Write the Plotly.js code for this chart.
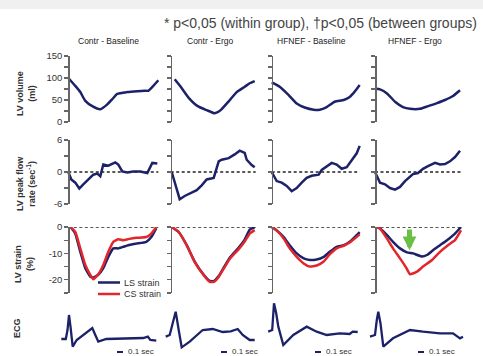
<!DOCTYPE html>
<html><head><meta charset="utf-8">
<script src="https://cdn.plot.ly/plotly-3.0.1.min.js"></script>
<style>html,body{margin:0;padding:0;background:#fff}#chart{width:483px;height:356px}</style>
</head><body><div id="chart"></div>
<script>
// ---------- DATA ----------
const groups = ["Contr - Baseline", "Contr - Ergo", "HFNEF - Baseline", "HFNEF - Ergo"];
const noteText = "* p&lt;0,05 (within group), †p&lt;0,05 (between groups)";
const rowLabels = ["LV volume<br>(ml)", "LV peak flow<br>rate (sec<sup>-1</sup>)", "LV strain<br>(%)", "ECG"];
const seriesNames = ["LS strain", "CS strain"];
const scaleLabel = "0.1 sec";

// time (% of cycle) and LV volume (ml)
const volT_cb = [0, 7, 12, 17, 24, 32, 39, 44, 49, 59, 69, 76, 80, 85, 90];
const vol_cb  = [100, 82, 68, 48, 36, 29, 40, 52, 64, 68, 70, 71, 71, 82, 95];
const volT_ce = [4, 10, 18, 27, 36, 44, 50, 58, 66, 74, 79, 84];
const vol_ce  = [97, 80, 55, 36, 27, 20, 27, 47, 68, 80, 88, 93];
const volT_hb = [0, 8, 17, 25, 33, 42, 48, 55, 63, 72, 78, 83, 88];
const vol_hb  = [90, 80, 61, 42, 33, 28, 28, 34, 46, 50, 57, 69, 84];
const volT_he = [0, 5, 12, 20, 28, 35, 45, 53, 62, 70, 78, 85];
const vol_he  = [76, 74, 65, 46, 34, 30, 30, 36, 43, 50, 59, 72];

// LV peak flow rate (1/s)
const flowT_cb = [0, 3, 7, 11, 15, 20, 25, 29, 32, 35, 40, 47, 50, 54, 59, 65, 72, 79, 84, 89];
const flow_cb  = [0, -1.4, -2.0, -3.1, -2.3, -1.4, -0.5, -0.3, -0.8, 1.4, 1.2, 1.8, 1.4, 0.1, -0.1, 0.1, 0.1, -0.2, 1.7, 1.6];
const flowT_ce = [1, 4, 9, 14, 21, 26, 31, 36, 43, 48, 51, 58, 64, 69, 74, 76, 81, 84];
const flow_ce  = [0, -2.0, -5.1, -4.5, -3.8, -3.4, -2.5, -1.4, -1.1, 2.0, 2.3, 2.6, 3.3, 4.0, 3.6, 2.3, 1.3, 0.9];
const flowT_hb = [0, 5, 10, 15, 20, 25, 30, 35, 40, 47, 50, 55, 60, 65, 70, 75, 80, 85, 88];
const flow_hb  = [0, -1.7, -2.0, -2.6, -3.6, -3.0, -2.0, -1.1, -0.7, -0.5, 0.4, 1.0, 1.7, 1.4, 0.6, 0.9, 2.3, 3.5, 4.9];
const flowT_he = [0, 5, 10, 15, 20, 25, 30, 35, 38, 43, 48, 53, 60, 65, 70, 75, 80, 85];
const flow_he  = [0, -2.0, -2.3, -3.0, -3.3, -2.8, -1.7, -0.8, -0.4, -0.2, 0.6, 1.1, 1.7, 1.4, 1.5, 2.0, 2.8, 4.0];

// LV strain (%)
const strT_cb = [0, 3, 7, 12, 17, 22, 25, 30, 35, 40, 45, 50, 55, 60, 68, 78, 83, 88];
const ls_cb   = [0, -0.4, -2.5, -9.4, -15.6, -18.8, -19.1, -18.1, -15.6, -11.3, -8.1, -8.1, -7.5, -6.9, -6.3, -5.6, -3.8, -0.4];
const cs_cb   = [0, -0.4, -1.9, -8.1, -14.4, -18.1, -19.8, -17.9, -14.4, -9.4, -5.6, -4.6, -5.0, -4.6, -4.1, -3.8, -2.5, 0];
const strT_ce = [1, 8, 16, 24, 33, 39, 43, 48, 53, 59, 68, 74, 79, 84];
const ls_ce   = [0, -1.9, -6.9, -13.1, -18.1, -20.4, -20.5, -18.6, -15.4, -11.6, -7.8, -4.8, -1.0, 0];
const cs_ce   = [0, -1.9, -6.9, -13.3, -18.3, -20.8, -20.8, -18.9, -15.8, -12.1, -8.4, -5.5, -2.5, -1.2];
const strT_hb = [0, 5, 12, 18, 25, 32, 38, 45, 52, 58, 65, 72, 78, 88];
const ls_hb   = [0, -1.3, -3.8, -6.9, -10.0, -11.9, -12.5, -12.3, -11.3, -9.4, -7.5, -6.9, -5.6, -1.9];
const cs_hb   = [0, -1.3, -4.4, -8.1, -11.3, -13.8, -15.0, -14.6, -13.1, -10.4, -8.1, -7.1, -5.9, -2.8];
const strT_he = [2, 5, 12, 18, 25, 32, 38, 47, 52, 58, 65, 72, 80, 86];
const ls_he   = [0, -0.6, -3.1, -5.6, -8.1, -9.6, -10.0, -11.2, -10.6, -8.8, -6.9, -5.0, -2.5, 0];
const csT_he  = [2, 5, 12, 18, 25, 31, 35, 42, 48, 57, 65, 73, 80, 86];
const cs_he   = [0, -0.6, -4.4, -8.1, -11.9, -15.3, -17.9, -16.9, -15.0, -12.5, -9.4, -6.9, -5.0, -1.3];

// ECG (arbitrary units)
const ecgT_cb = [-7, -2.5, -0.8, 0.7, 2.2, 4.4, 8.4, 15, 24, 27, 30, 38, 60, 75, 79.5, 82, 88];
const ecg_cb  = [0.3, 0.3, 3.0, 7.5, 4.0, -2.0, 0, 1.5, 3.6, 1.5, -0.5, 0.3, 0.4, 0.6, 1.0, 0, -0.2];
const ecgT_ce = [-5, -1, 2, 5, 8, 11, 19, 32, 42, 52, 60, 67, 72, 79, 84];
const ecg_ce  = [1.0, 1.5, 5.0, 8.5, 3.0, -2.2, -0.5, 3.0, 3.3, 2.4, 2.6, 3.3, 1.5, 0, 0];
const ecgT_hb = [-3.5, 0.5, 2.3, 4.5, 6.6, 11.6, 21.6, 35, 45, 55, 68, 78, 81, 86];
const ecg_hb  = [2.5, 3.0, 11.0, 8.0, 4.0, -1.5, 1.5, 4.0, 2.5, 1.5, 2.0, 1.8, 2.5, 2.4];
const ecgT_he = [-5, 0, 1.8, 3.3, 5.5, 8.3, 18, 35, 48, 65, 78, 85, 88];
const ecg_he  = [1.0, 1.5, 6.0, 8.5, 5.0, -2.0, 0.5, 3.0, 2.5, 2.0, 2.0, 0.5, 1.0];

// ---------- LAYOUT HELPERS ----------
const W = 483, H = 356;
const axisPx = [68.3, 170.7, 271.7, 375];
const rowPx = [[56, 122], [140, 204], [227, 293], [300, 350]];
const dashEnd = [90, 85, 87, 87];
const px = p => p / W, py = p => 1 - p / H;
const NAVY = '#1d2268', RED = '#e2262b';

const volT = [volT_cb, volT_ce, volT_hb, volT_he], vols = [vol_cb, vol_ce, vol_hb, vol_he];
const flowT = [flowT_cb, flowT_ce, flowT_hb, flowT_he], flows = [flow_cb, flow_ce, flow_hb, flow_he];
const strT = [strT_cb, strT_ce, strT_hb, strT_he], lss = [ls_cb, ls_ce, ls_hb, ls_he], css = [cs_cb, cs_ce, cs_hb, cs_he];
const csT = [strT_cb, strT_ce, strT_hb, csT_he];
const ecgT = [ecgT_cb, ecgT_ce, ecgT_hb, ecgT_he], ecgs = [ecg_cb, ecg_ce, ecg_hb, ecg_he];

const traces = [];
const yName = (r, c) => 'y' + (r * 4 + c + 1);
for (let c = 0; c < 4; c++) {
  const xa = 'x' + (c + 1);
  traces.push({x: volT[c], y: vols[c], xaxis: xa, yaxis: yName(0, c), mode: 'lines', showlegend: false, name: 'LV volume',
    line: {color: NAVY, width: 2.5, shape: 'spline', smoothing: 0.5}});
  traces.push({x: flowT[c], y: flows[c], xaxis: xa, yaxis: yName(1, c), mode: 'lines', showlegend: false, name: 'LV peak flow rate',
    line: {color: NAVY, width: 2.5}});
  traces.push({x: strT[c], y: lss[c], xaxis: xa, yaxis: yName(2, c), mode: 'lines', showlegend: false, name: seriesNames[0],
    line: {color: NAVY, width: 2.5, shape: 'spline', smoothing: 0.4}});
  traces.push({x: csT[c], y: css[c], xaxis: xa, yaxis: yName(2, c), mode: 'lines', showlegend: false, name: seriesNames[1],
    line: {color: RED, width: 2.5, shape: 'spline', smoothing: 0.4}});
  traces.push({x: ecgT[c], y: ecgs[c], xaxis: xa, yaxis: yName(3, c), mode: 'lines', showlegend: false, name: 'ECG',
    line: {color: NAVY, width: 2.3}});
}

const layout = {
  width: W, height: H, margin: {l: 0, r: 0, t: 0, b: 0},
  paper_bgcolor: '#fff', plot_bgcolor: 'rgba(0,0,0,0)', showlegend: false,
  font: {family: 'Arial, Liberation Sans, sans-serif', color: '#333'},
  annotations: [], shapes: []
};
// faint grey band at the very top of the slide
layout.shapes.push({type: 'rect', xref: 'paper', yref: 'paper', x0: 0, x1: 1, y0: py(9), y1: 1,
  fillcolor: '#f0f0f0', line: {width: 0}, layer: 'below'});
const yTicks = [
  {vals: [0, 25, 50, 75, 100, 125, 150], text: ['0', '', '50', '', '100', '', '150'], range: [0, 150]},
  {vals: [-6, -3, 0, 3, 6], text: ['-6', '', '0', '', '6'], range: [-6, 6]},
  {vals: [-25, -20, -15, -10, -5, 0], text: ['', '-20', '', '-10', '', '0'], range: [-25, 0]}
];
for (let c = 0; c < 4; c++) {
  layout['xaxis' + (c + 1)] = {domain: [px(axisPx[c] - 10), px(axisPx[c] + 92)], range: [-10, 92], visible: false, fixedrange: true};
  for (let r = 0; r < 4; r++) {
    const idx = r * 4 + c + 1;
    const key = 'yaxis' + (idx === 1 ? '' : idx);
    const dom = [py(rowPx[r][1]), py(rowPx[r][0])];
    if (r === 3) {
      layout[key] = {domain: dom, range: [-3, 12], visible: false, anchor: 'free', position: px(axisPx[c])};
    } else {
      const t = yTicks[r];
      layout[key] = {domain: dom, range: t.range, anchor: 'free', position: px(axisPx[c]),
        showgrid: false, zeroline: false, showline: true, linecolor: '#666', linewidth: 1.5,
        ticks: 'outside', ticklen: 4, tickwidth: 1.2, tickcolor: '#666',
        tickmode: 'array', tickvals: t.vals, ticktext: c === 0 ? t.text : t.vals.map(() => ''),
        tickfont: {size: 9.5, color: '#333'}};
      if (r > 0) {
        layout.shapes.push({type: 'line', xref: 'x' + (c + 1), yref: 'y' + idx, x0: 0, x1: dashEnd[c], y0: 0, y1: 0,
          line: {color: '#222', width: 1.5, dash: '3px,2.5px'}, layer: 'below'});
      }
    }
  }
  // column titles
  layout.annotations.push({xref: 'paper', yref: 'paper', x: px(axisPx[c] + 40), y: py(41), text: groups[c],
    showarrow: false, font: {size: 8.5, color: '#222'}, xanchor: 'center', yanchor: 'middle'});
}
// note
layout.annotations.push({xref: 'paper', yref: 'paper', x: px(479), y: py(23), text: noteText, showarrow: false,
  xanchor: 'right', yanchor: 'middle', font: {size: 14, color: '#444'}});
// row labels
const rowLabelPos = [[26, 94], [26, 184], [24, 264], [17, 328]];
rowLabels.forEach((t, i) => layout.annotations.push({xref: 'paper', yref: 'paper', x: px(rowLabelPos[i][0]), y: py(rowLabelPos[i][1]),
  text: '<b>' + t + '</b>', textangle: -90, showarrow: false, xanchor: 'center', yanchor: 'middle', font: {size: 9, color: '#333'}}));
// legend (inside first strain panel)
const legY = [282.5, 294];
[NAVY, RED].forEach((col, i) => {
  layout.shapes.push({type: 'line', xref: 'paper', yref: 'paper', x0: px(98), x1: px(120), y0: py(legY[i]), y1: py(legY[i]),
    line: {color: col, width: 2.5}});
  layout.annotations.push({xref: 'paper', yref: 'paper', x: px(122), y: py(legY[i]), text: seriesNames[i], showarrow: false,
    xanchor: 'left', yanchor: 'middle', font: {size: 9, color: '#333'}});
});
// time scale bars
const barPx = [117, 221, 315, 418];
barPx.forEach(b => {
  layout.shapes.push({type: 'line', xref: 'paper', yref: 'paper', x0: px(b), x1: px(b + 6), y0: py(352), y1: py(352),
    line: {color: NAVY, width: 2}});
  layout.annotations.push({xref: 'paper', yref: 'paper', x: px(b + 9), y: py(351.5), text: scaleLabel, showarrow: false,
    xanchor: 'left', yanchor: 'middle', font: {size: 8, color: '#333'}});
});
// green arrow (HFNEF - Ergo strain)
layout.annotations.push({xref: 'x4', yref: 'y12', axref: 'x4', ayref: 'y12', x: 34.5, y: -8.8, ax: 34.5, ay: -0.4,
  text: '', showarrow: true, arrowhead: 2, arrowsize: 0.55, arrowwidth: 5, arrowcolor: '#6abf45'});

Plotly.newPlot('chart', traces, layout, {staticPlot: true, displayModeBar: false});
</script>
</body></html>
